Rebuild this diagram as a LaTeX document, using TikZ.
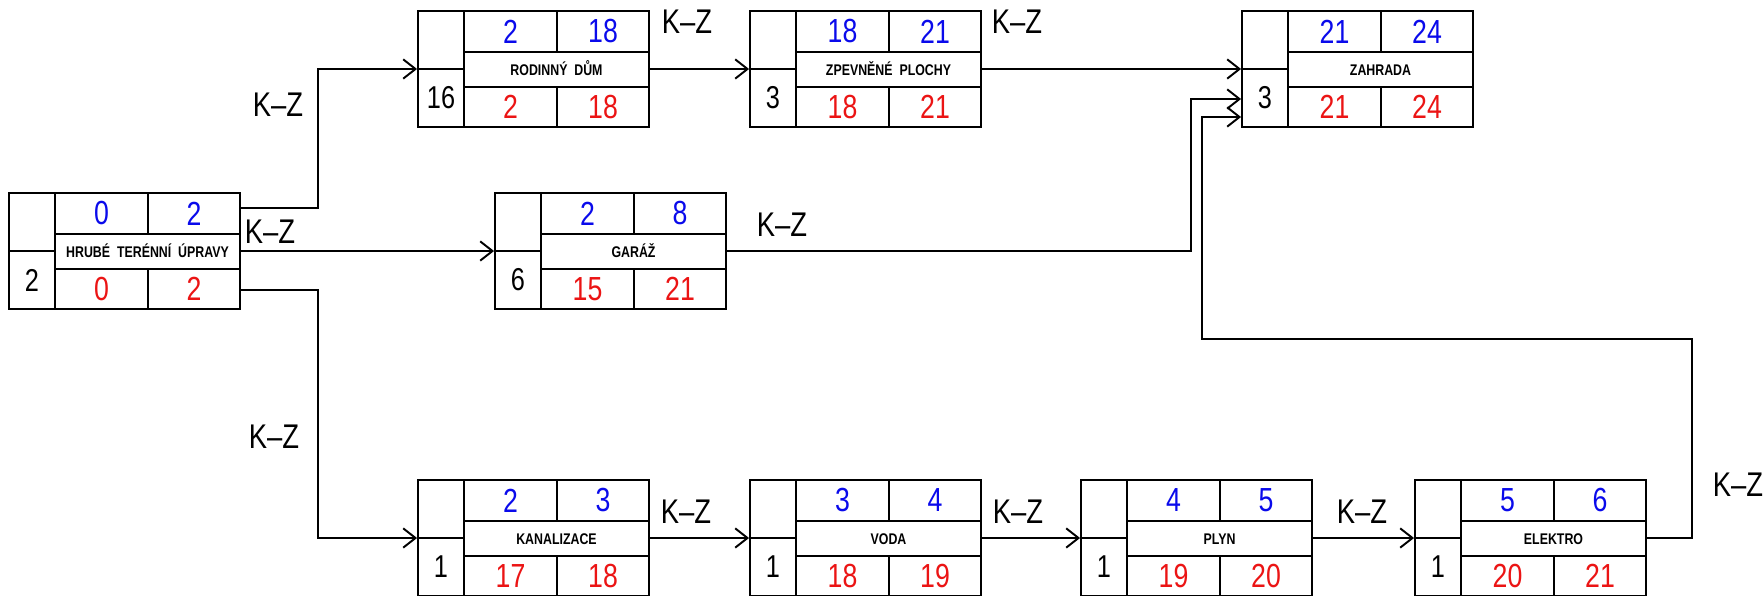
\documentclass[tikz,border=0pt]{standalone}
\usepackage{fontspec}
\setmainfont{Liberation Sans}[FakeStretch=0.8]
\usepackage{xcolor}
\usetikzlibrary{arrows.meta,positioning,calc}
\definecolor{esblue}{RGB}{10,10,235}
\definecolor{lsred}{RGB}{235,20,20}
\tikzset{
  edge/.style={line width=1.1pt},
  dep/.style={-{Straight Barb[length=7pt, width=11pt, line width=1.1pt]}, line width=1.1pt},
  actbox/.style={draw, line width=1.1pt, minimum width=4.62cm, minimum height=2.32cm, inner sep=0pt},
  early/.style={font=\fontsize{19}{19}\selectfont, text=esblue, inner sep=0pt},
  late/.style={font=\fontsize{19}{19}\selectfont, text=lsred, inner sep=0pt},
  dur/.style={font=\fontsize{18}{18}\selectfont, inner sep=0pt},
  actname/.style={font=\fontsize{8.8}{8.8}\selectfont\bfseries, inner sep=0pt, text height=6.3pt, text depth=0pt},
  kz/.style={font=\fontsize{19.5}{19.5}\selectfont, inner sep=0pt},
}
% activity box: name, x, y, label, duration, ES, EF, LS, LF
\newcommand{\cinnost}[9]{%
  \begin{scope}[shift={(#2,#3)}]
    \node[actbox] (#1) at (115.5,58) {};
    \draw[edge] (46,0) -- (46,116) (0,58) -- (46,58)
      (46,41) -- (231,41) (46,76) -- (231,76)
      (139,0) -- (139,41) (139,76) -- (139,116);
    \node[early] (#1-es) at (92.5,20.5) {#6};
    \node[early] (#1-ef) at (185,20.5) {#7};
    \node[actname] (#1-name) at (138.5,58.5) {#4};
    \node[late] (#1-ls) at (92.5,96) {#8};
    \node[late] (#1-lf) at (185,96) {#9};
    \node[dur] (#1-dur) at (23,87) {#5};
  \end{scope}}

\begin{document}
\begin{tikzpicture}[x=0.02cm, y=-0.02cm]
\useasboundingbox (0,0) rectangle (1764,595);
% --- activities ---
\cinnost{hrube}{9}{193}{HRUBÉ\ \ TERÉNNÍ\ \ ÚPRAVY}{2}{0}{2}{0}{2}
\cinnost{rodinny}{418}{11}{RODINNÝ\ \ DŮM}{16}{2}{18}{2}{18}
\cinnost{zpevnene}{750}{11}{ZPEVNĚNÉ\ \ PLOCHY}{3}{18}{21}{18}{21}
\cinnost{zahrada}{1242}{11}{ZAHRADA}{3}{21}{24}{21}{24}
\cinnost{garaz}{495}{193}{GARÁŽ}{6}{2}{8}{15}{21}
\cinnost{kanal}{418}{480}{KANALIZACE}{1}{2}{3}{17}{18}
\cinnost{voda}{750}{480}{VODA}{1}{3}{4}{18}{19}
\cinnost{plyn}{1081}{480}{PLYN}{1}{4}{5}{19}{20}
\cinnost{elektro}{1415}{480}{ELEKTRO}{1}{5}{6}{20}{21}
% --- dependencies from hrube ---
\draw[dep] ($(hrube.north east)+(0,16)$) -- ++(77,0) |- (rodinny.west);
\draw[dep] (hrube.east) -- (garaz.west);
\draw[dep] ($(hrube.south east)+(0,-20)$) -- ++(77,0) |- (kanal.west);
% --- top row ---
\draw[dep] (rodinny.east) -- (zpevnene.west);
\draw[dep] (zpevnene.east) -- (zahrada.west);
\draw[dep] (garaz.east) -- ++(464,0) |- ($(zahrada.west)+(0,30)$);
% --- bottom row ---
\draw[dep] (kanal.east) -- (voda.west);
\draw[dep] (voda.east) -- (plyn.west);
\draw[dep] (plyn.east) -- (elektro.west);
\draw[dep] (elektro.east) -- ++(45,0) |- ($(zahrada.west)+(-39,270)$) |- ($(zahrada.west)+(0,48)$);
% --- relation labels ---
\node[kz] (kz-rd) at (278,105) {K--Z};
\node[kz] (kz-ga) at (270,232) {K--Z};
\node[kz] (kz-ka) at (274,437) {K--Z};
\node[kz] (kz-zp) at (687,22) {K--Z};
\node[kz] (kz-za) at (1017,22) {K--Z};
\node[kz] (kz-gz) at (782,225) {K--Z};
\node[kz] (kz-vo) at (686,512) {K--Z};
\node[kz] (kz-pl) at (1018,512) {K--Z};
\node[kz] (kz-el) at (1362,512) {K--Z};
\node[kz] (kz-ez) at (1738,485) {K--Z};
\end{tikzpicture}
\end{document}
